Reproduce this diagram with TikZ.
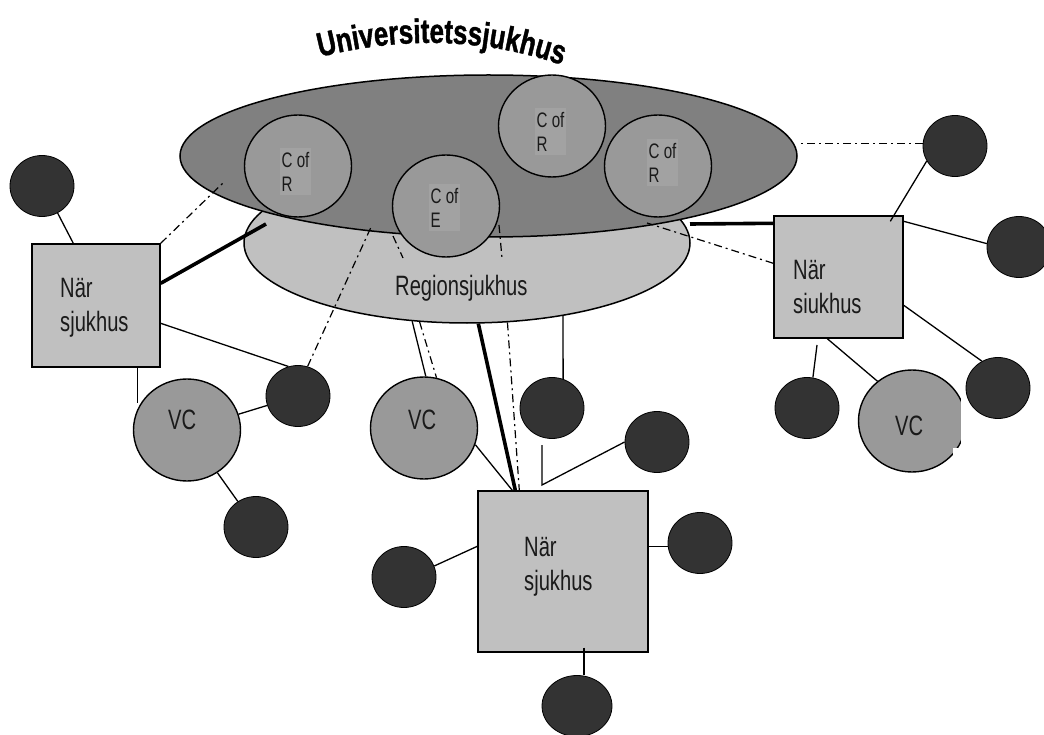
\documentclass[tikz,border=0pt]{standalone}
\usepackage{fontspec}
\setmainfont{Liberation Sans}
\newfontfamily\cf[FakeStretch=0.72]{Liberation Sans}
\newfontfamily\tf[FakeStretch=0.76,FakeBold=1.2]{Liberation Sans}
\usetikzlibrary{shapes.geometric,decorations.text}
\definecolor{dk}{HTML}{333333}
\definecolor{unic}{HTML}{808080}
\definecolor{midc}{HTML}{999999}
\definecolor{ltc}{HTML}{C0C0C0}
\definecolor{tbc}{HTML}{A2A2A2}
\definecolor{txc}{HTML}{1A1A1A}
\begin{document}
\begin{tikzpicture}[x=1pt,y=-1pt,
  blob/.style={ellipse, draw=black, line width=0.8pt, fill=dk, minimum width=64pt, minimum height=61pt, inner sep=0pt},
  gcirc/.style={ellipse, draw=black, line width=1.4pt, fill=midc, minimum width=107pt, minimum height=102pt, inner sep=0pt},
  boxn/.style={rectangle, draw=black, line width=1.4pt, fill=ltc, inner sep=0pt},
  ln/.style={line width=1.3pt},
  tk/.style={line width=3.6pt},
  dd/.style={line width=1.2pt, dash pattern=on 8pt off 4pt on 2pt off 4pt},
  cof/.style={fill=tbc, text=txc, align=left, inner xsep=1.5pt, inner ysep=4pt, anchor=north west, font=\cf\fontsize{21}{24}\selectfont},
  lab/.style={align=left, text=txc, inner sep=0pt, anchor=north west, font=\cf\fontsize{28}{34}\selectfont},
  vclab/.style={inner sep=0pt, text=txc, anchor=base west, font=\cf\fontsize{28}{34}\selectfont}
]
\useasboundingbox (0,0) rectangle (1044,735);
\fill[white] (0,0) rectangle (1044,735);

% title
\coordinate (ta) at (320,57);
\coordinate (tb) at (562,65);
\path[decorate, decoration={text along path, text align=center,
  text={|\tf\bfseries\fontsize{34}{36}\selectfont|Universitetssjukhus}}]
  (ta) .. controls (400,37) and (480,37) .. (tb);

% hospitals
\node[ellipse, draw=black, line width=1.5pt, fill=ltc, minimum width=446pt, minimum height=160pt, inner sep=0pt] (reg) at (467,243) {};
\node[ellipse, draw=black, line width=1.5pt, fill=unic, minimum width=617pt, minimum height=162pt, inner sep=0pt] (uni) at (488.5,156) {};
\node[vclab] (regt) at (395,295) {Regionsjukhus};

% centres
\node[gcirc] (cr1) at (298,166) {};
\node[gcirc] (ce) at (446,206) {};
\node[gcirc] (cr2) at (552,126) {};
\node[gcirc] (cr3) at (658,166) {};
\node[cof] (t1) at (280,148) {C of\\R};
\node[cof] (t2) at (429,184) {C of\\E};
\node[cof] (t3) at (535,108) {C of\\R};
\node[cof] (t4) at (647,139) {C of\\R};

% boxes
\node[boxn, minimum width=128pt, minimum height=123pt] (L) at (96,305.5) {};
\node[boxn, minimum width=129pt, minimum height=122pt] (R) at (838.5,277) {};
\node[boxn, minimum width=170pt, minimum height=161pt] (B) at (563,571.5) {};
\node[lab] (Lt) at (60,278) {När\\sjukhus};
\node[lab] (Rt) at (793,260) {När\\siukhus};
\node[lab] (Bt) at (524,537) {När\\sjukhus};

% VC
\node[gcirc] (vc1) at (187,430) {};
\node[gcirc] (vc2) at (424,428) {};
\node[gcirc] (vc3) at (912,421) {};
\node[vclab] (vt1) at (168,429) {VC};
\node[vclab] (vt2) at (408,429) {VC};
\node[vclab] (vt3) at (895,435) {VC};
\fill[white] (961,398) rectangle (968,455);
\fill[white] (953,448) rectangle (968,455);

% black circles
\node[blob] (b1) at (42,186) {};
\node[blob] (b2) at (298,396) {};
\node[blob] (b3) at (256,527) {};
\node[blob] (b4) at (552,408) {};
\node[blob] (b5) at (657,442) {};
\node[blob] (b6) at (404,577) {};
\node[blob] (b7) at (700,543) {};
\node[blob, minimum width=70pt] (b8) at (577,706) {};
\node[blob] (b9) at (955,146) {};
\node[blob] (b10) at (1019,247) {};
\node[blob] (b11) at (998,388) {};
\node[blob] (b12) at (807,408) {};

% free ends
\coordinate (u1) at (223,183);
\coordinate (r1) at (266,224);
\coordinate (r2) at (372,225);
\coordinate (r3) at (563,316);
\coordinate (k1) at (542,485);
\coordinate (k2) at (542,445);
\coordinate (r4) at (690,224);
\coordinate (r5) at (647,223);
\coordinate (r6) at (817,345);
\coordinate (d1) at (393,236);
\coordinate (d2) at (403,258);
\coordinate (d3) at (499,225);
\coordinate (d4) at (502,258);

% left cluster
\draw[ln] (b1.-60) -- ([xshift=42pt]L.north west);
\draw[dd] (L.north east) -- (u1);
\draw[tk] ([yshift=-40pt]L.north east) -- (r1);
\draw[ln] ([yshift=-80pt]L.north east) -- (b2.108);
\draw[ln] ([xshift=106pt]L.south west) -- ([xshift=106pt]L.south west |- vc1.150);
\draw[ln] (vc1) -- (b2);
\draw[ln] (vc1) -- (b3);
\draw[dd] (b2.72) -- (r2);

% middle cluster
\draw[ln] (reg.-125) -- (vc2.88);
\draw[dd] (reg.-121) -- (vc2.76);
\draw[tk] (reg.-82) -- ([xshift=38pt]B.north west);
\draw[dd] (reg.-63) -- ([xshift=42pt]B.north west);
\draw[ln] (vc2.-18) -- ([xshift=35pt]B.north west);
\draw[ln] (r3) -- (b4.69);
\draw[ln] (b5.west) -- (k1) -- (k2);
\draw[ln] ([yshift=-56pt]B.north west) -- (b6.20);
\draw[ln] ([yshift=-56pt]B.north east) -- ([yshift=-56pt]B.north east -| b7.west);
\draw[ln] ([xshift=21pt,yshift=5pt]B.south) -- ([xshift=21pt]B.south |- b8.north);
\draw[dd] (d1) -- (d2);
\draw[dd] (d3) -- (d4);

% right cluster
\draw[tk] ([yshift=-8pt]R.north west) -- (r4);
\draw[dd] ([yshift=-48pt]R.north west) -- (r5);
\draw[dd] (b9.176) -- (b9.176 -| uni.east);
\draw[ln] (b9.208) -- ([xshift=117pt,yshift=-6pt]R.north west);
\draw[ln] ([yshift=-6pt]R.north east) -- (b10.174);
\draw[ln] ([yshift=-90pt]R.north east) -- (b11.121);
\draw[ln] (r6) -- (b12.79);
\draw[ln] ([xshift=54pt]R.south west) -- (vc3.131);
\end{tikzpicture}
\end{document}
